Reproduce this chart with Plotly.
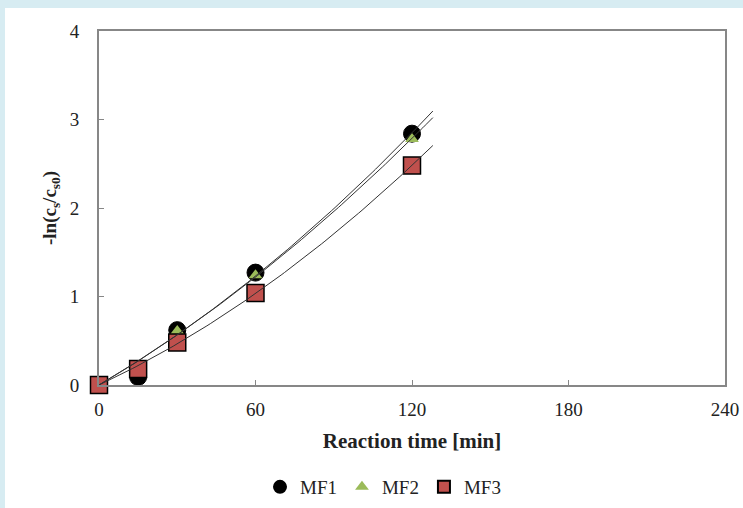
import numpy as np
import plotly.graph_objects as go

time_min = [0, 15, 30, 60, 120]
mf1 = [0, 0.09, 0.62, 1.27, 2.84]
mf2 = [0, 0.15, 0.61, 1.24, 2.78]
mf3 = [0, 0.18, 0.48, 1.04, 2.48]
series_names = ["MF1", "MF2", "MF3"]
x_ticks = [0, 60, 120, 180, 240]
y_ticks = [0, 1, 2, 3, 4]
fit_end = 128

W, H = 743, 508
L, R, T, B = 99, 18, 31, 123
pw, ph = W - L - R, H - T - B

def px_x(px):
    return (px - L) / pw

def px_y(py):
    return (H - B - py) / ph

FONT = "Liberation Serif, Times New Roman, serif"
fig = go.Figure()

styles = [
    dict(symbol="circle", size=17, color="black", line=dict(color="black", width=1)),
    dict(symbol="triangle-up", size=12, color="#9bbb59", line=dict(color="#9bbb59", width=0)),
    dict(symbol="square", size=17, color="#c0504d", line=dict(color="black", width=1.5)),
]
data = [mf1, mf2, mf3]
for name, ys, st in zip(series_names, data, styles):
    fig.add_trace(go.Scatter(x=time_min, y=ys, mode="markers", name=name, marker=st,
                             cliponaxis=False))

xs = np.array(time_min, dtype=float)
xf = np.linspace(0, fit_end, 100)
for ys in data:
    A = np.vstack([xs, xs ** 2]).T
    coef, *_ = np.linalg.lstsq(A, np.array(ys), rcond=None)
    yf = coef[0] * xf + coef[1] * xf ** 2
    fig.add_trace(go.Scatter(x=xf, y=yf, mode="lines", showlegend=False, cliponaxis=False,
                             line=dict(color="#333333", width=1), hoverinfo="skip"))

# light blue frame strips
blue = "#d7ecf2"
fig.add_shape(type="rect", xref="paper", yref="paper", x0=px_x(0), x1=px_x(5),
              y0=px_y(H), y1=px_y(0), fillcolor=blue, line_width=0, layer="below")
fig.add_shape(type="rect", xref="paper", yref="paper", x0=px_x(0), x1=px_x(W),
              y0=px_y(8), y1=px_y(0), fillcolor=blue, line_width=0, layer="below")

axis_common = dict(showline=True, linecolor="#878787", linewidth=2, mirror=True,
                   ticks="inside", ticklen=5, tickcolor="#878787", showgrid=False,
                   zeroline=False, automargin=False,
                   tickfont=dict(family=FONT, size=19, color="#222"))
fig.update_xaxes(range=[0, 240], tickvals=x_ticks, ticklabelstandoff=6,
                 title=dict(text="<b>Reaction time [min]</b>", standoff=15,
                            font=dict(family=FONT, size=21, color="#222")),
                 **axis_common)
fig.update_yaxes(range=[0, 4], tickvals=y_ticks, ticklabelstandoff=14,
                 title=dict(text="<b>-ln(c<sub>s</sub>/c<sub>s0</sub>)</b>", standoff=8,
                            font=dict(family=FONT, size=19, color="#222")),
                 **axis_common)

fig.update_layout(
    template="none",
    width=W, height=H, margin=dict(l=L, r=R, t=T, b=B, autoexpand=False),
    paper_bgcolor="white", plot_bgcolor="white",
    showlegend=True,
    legend=dict(orientation="h", x=px_x(383), xanchor="center", y=px_y(487), yanchor="middle",
                font=dict(family=FONT, size=19, color="#222"), itemwidth=30,
                itemsizing="constant",
                bgcolor="rgba(0,0,0,0)", tracegroupgap=0),
)
fig.write_html("out.html")
